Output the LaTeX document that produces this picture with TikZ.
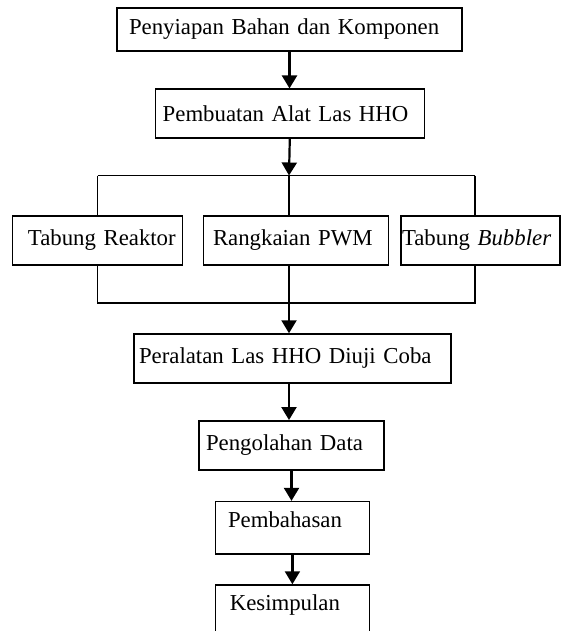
\documentclass[tikz,border=0pt]{standalone}
\usepackage{fontspec}
\setmainfont{Liberation Serif}
\usetikzlibrary{arrows.meta}
\tikzset{
  stage/.style={draw,line width=0.75pt,align=left,inner ysep=0pt,
    font=\fontsize{11.4}{14}\selectfont},
  tall/.style={text depth=8.5pt},
  flow/.style={-{Triangle[width=7.5pt,length=6.5pt]},line width=1.1pt},
  branch/.style={line width=0.75pt}
}
\begin{document}
\begin{tikzpicture}[x=1pt,y=-1pt]
  \useasboundingbox (0,0) rectangle (281,315.5);
  \clip (0,0) rectangle (281,315.5);
  \node[stage,minimum height=21.5pt,text width=160.5pt,inner xsep=6pt] (pre) at (144.75,14.75) {Penyiapan Bahan dan Komponen};
  \node[stage,minimum height=24.4pt,text width=127.1pt,inner xsep=3.7pt] (build) at (144.9,56.8) {Pembuatan Alat Las HHO};
  \node[stage,minimum height=24.5pt,text width=69.6pt,inner xsep=7.6pt] (reaktor) at (48.75,120.25) {\mbox{Tabung Reaktor}};
  \node[stage,minimum height=24.5pt,text width=82.8pt,inner xsep=4.85pt] (pwm) at (147.9,120.25) {Rangkaian PWM};
  \node[stage,minimum height=24.5pt,text width=78.5pt,inner xsep=0.5pt] (bubbler) at (240.25,120.25) {\mbox{Tabung \textit{Bubbler}}};
  \node[stage,minimum height=24.5pt,text width=153.5pt,inner xsep=2.5pt] (test) at (146.25,179.25) {Peralatan Las HHO Diuji Coba};
  \node[stage,minimum height=24.6pt,text width=85.5pt,inner xsep=3.5pt] (olah) at (145.75,222.7) {Pengolahan Data};
  \node[stage,tall,minimum height=26.2pt,text width=64.4pt,inner xsep=6.25pt] (bahas) at (146.2,263.9) {Pembahasan};
  \node[stage,tall,minimum height=26.2pt,text width=62.6pt,inner xsep=7.15pt] (simpul) at (146.2,305.6) {Kesimpulan};
  % percabangan
  \coordinate (topL) at (48.75,87.75);
  \coordinate (topM) at (144.5,87.75);
  \coordinate (topR) at (237.5,87.75);
  \coordinate (botL) at (48.75,151.5);
  \coordinate (botM) at (144.5,151.5);
  \coordinate (botR) at (237.5,151.5);
  \draw[flow] (pre.south) -- (pre.south |- build.north);
  \draw[flow] (build.south) -- (topM);
  \draw[branch] (topL) -- (topR);
  \draw[branch] (topL) -- (reaktor.north);
  \draw[branch] (topM) -- (topM |- pwm.north);
  \draw[branch] (topR) -- (topR |- bubbler.north);
  \draw[branch] (reaktor.south) -- (botL) -- (botR) -- (botR |- bubbler.south);
  \draw[flow] (botM |- pwm.south) -- (botM |- test.north);
  \draw[flow] (test.south -| botM) -- (botM |- olah.north);
  \draw[flow] (olah.south) -- (olah.south |- bahas.north);
  \draw[flow] (bahas.south) -- (simpul.north);
\end{tikzpicture}
\end{document}
